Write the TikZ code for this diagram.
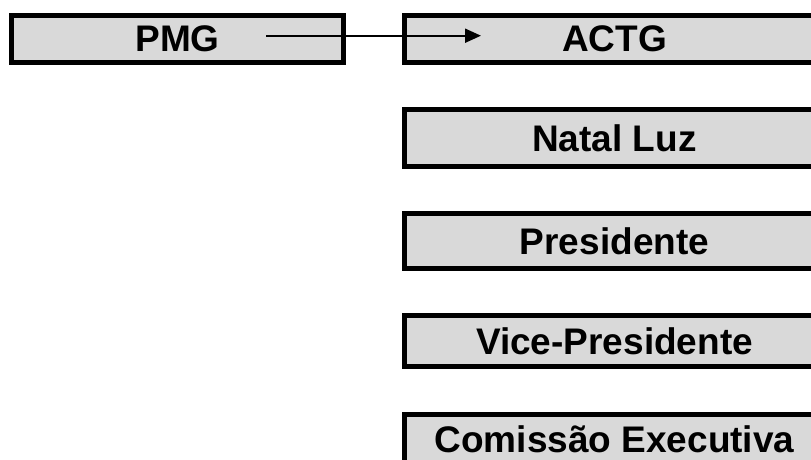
\documentclass[tikz,border=0pt]{standalone}
\usepackage{fontspec}
\setmainfont{Liberation Sans}
\definecolor{boxgray}{RGB}{217,217,217}
\usepackage{tikz}
\usetikzlibrary{arrows.meta,positioning,calc}

\begin{document}
\begin{tikzpicture}[
		x=1pt, y=1pt,
		orgbox/.style={rectangle, draw=black, fill=boxgray, line width=5pt,
				inner sep=0pt, align=center,
				font=\fontsize{37}{41}\selectfont\bfseries},
		arr/.style={-{Triangle[length=16pt, width=14pt]}, line width=2pt, black},
		]
		\useasboundingbox (0,0) rectangle (811,-459);
		\clip (0,0) rectangle (811,-459);

		% Nodes
		\node[orgbox, minimum width=332pt, minimum height=47pt, anchor=north west] (pmg) at (9,-13) {PMG};
		\node[orgbox, minimum width=420pt, minimum height=47pt, right=56pt of pmg] (actg) {ACTG};
		\node[orgbox, minimum width=420pt, minimum height=57pt, below=42pt of actg] (natal) {Natal Luz};
		\node[orgbox, minimum width=420pt, minimum height=55pt, below=42pt of natal] (pres) {Presidente};
		\node[orgbox, minimum width=420pt, minimum height=51pt, below=42pt of pres] (vice) {Vice-Presidente};
		\node[orgbox, minimum width=420pt, minimum height=62pt, text depth=12pt, below=43pt of vice] (comissao) {Comiss\~ao Executiva};

		% Arrows
		\coordinate (pmgout) at ($(pmg.west)+(257,3.3)$);
		\coordinate (actgin) at ($(actg.west)+(79,3.3)$);
		\draw[arr] (pmgout) -- (actgin);
	\end{tikzpicture}
\end{document}
